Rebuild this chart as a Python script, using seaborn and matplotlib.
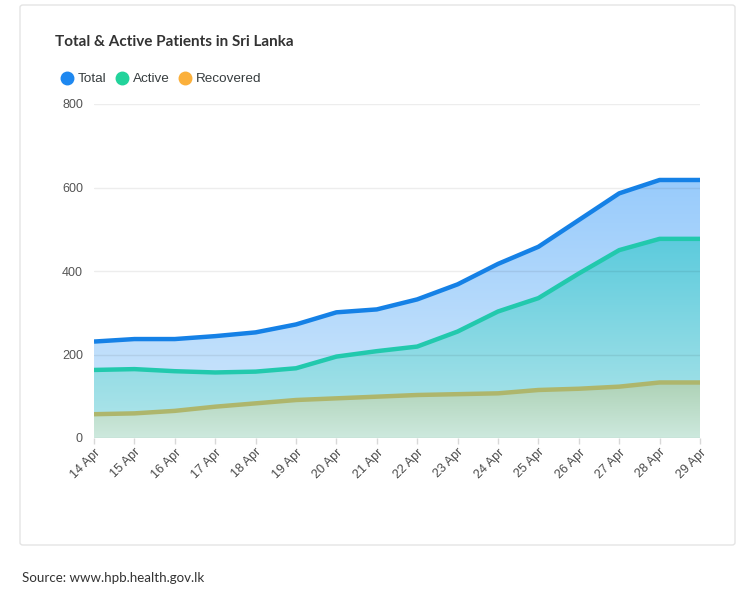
import numpy as np
import seaborn as sns
import matplotlib.pyplot as plt
from matplotlib.lines import Line2D
from matplotlib.patches import FancyBboxPatch
from matplotlib.colors import LinearSegmentedColormap

# ------------------------------------------------------------------
# data
dates = ['14 Apr', '15 Apr', '16 Apr', '17 Apr', '18 Apr', '19 Apr', '20 Apr', '21 Apr',
         '22 Apr', '23 Apr', '24 Apr', '25 Apr', '26 Apr', '27 Apr', '28 Apr', '29 Apr']
total = [231, 237, 237, 244, 253, 272, 301, 308, 332, 368, 417, 458, 522, 586, 618, 618]
active = [163, 165, 160, 157, 159, 167, 195, 208, 219, 255, 303, 335, 394, 450, 477, 477]
recovered = [57, 59, 65, 75, 83, 91, 95, 99, 103, 105, 107, 115, 118, 123, 133, 133]

series_names = ['Total', 'Active', 'Recovered']
legend_colors = ['#1e88f0', '#22d39b', '#fbb03b']
line_colors = ['#1581e6', '#22c9ad', '#aeb66c']
fill_top = ['#98cbfb', '#5ccbdd', '#aed2b6']
fill_bottom = ['#d3e9fc', '#b3e6ea', '#cde9de']

# ------------------------------------------------------------------
sns.set_theme(style='white')
plt.rcParams['font.family'] = ['Liberation Sans', 'DejaVu Sans']

W, H = 750, 591
fig = plt.figure(figsize=(W / 100, H / 100), dpi=100)

# card
card = FancyBboxPatch((20 / W, 1 - 545 / H), 715 / W, 540 / H,
                      boxstyle='round,pad=0,rounding_size=0.004',
                      transform=fig.transFigure, fc='white', ec='#e4e4e4', lw=1, zorder=0)
fig.add_artist(card)

ax = fig.add_axes([94 / W, 1 - 438 / H, 606 / W, 334 / H])
ax.patch.set_alpha(0)

x = np.arange(len(dates))


def gradient_area(ax, x, y, top, bottom, z):
    poly = ax.fill_between(x, 0, y, color='none', lw=0)
    grad = np.linspace(0, 1, 256).reshape(-1, 1)
    cmap = LinearSegmentedColormap.from_list('g', [bottom, top])
    im = ax.imshow(grad, cmap=cmap, aspect='auto', origin='lower',
                   extent=[x[0], x[-1], 0, max(y)], zorder=z, interpolation='bilinear')
    im.set_clip_path(poly.get_paths()[0], transform=ax.transData)


for i, ys in enumerate([total, active, recovered]):
    gradient_area(ax, x, ys, fill_top[i], fill_bottom[i], 1 + i * 0.1)

for i, ys in enumerate([total, active, recovered]):
    sns.lineplot(x=x, y=ys, color=line_colors[i], lw=3.2, ax=ax, zorder=4 - i * 0.1,
                 solid_joinstyle='round', solid_capstyle='butt')

ax.set_xlim(0, 15)
ax.set_ylim(0, 800)
ax.set_yticks([0, 200, 400, 600, 800])
ax.set_xticks(x)
ax.set_xticklabels(dates, rotation=45, ha='right', va='top', rotation_mode='anchor')
ax.yaxis.grid(True, color='black', alpha=0.07, lw=1)
ax.set_axisbelow(False)
for s in ax.spines.values():
    s.set_visible(False)
ax.tick_params(axis='y', length=0, pad=8, labelsize=9, labelcolor='#555555')
ax.tick_params(axis='x', bottom=True, length=4, width=1, color='#d8d8d8', pad=2,
               labelsize=9, labelcolor='#4a4a4a')
ax.set_xlabel('')
ax.set_ylabel('')

# title and legend
fig.text(55 / W, 1 - 42 / H, 'Total & Active Patients in Sri Lanka', family='Lato',
         fontweight='bold', fontsize=11, color='#333333', va='center')
leg_x = [67, 122, 185]
for i, name in enumerate(series_names):
    fig.add_artist(Line2D([leg_x[i] / W], [1 - 78 / H], marker='o', ms=9, lw=0,
                          color=legend_colors[i], transform=fig.transFigure))
    fig.text((leg_x[i] + 11) / W, 1 - 78.5 / H, name, fontsize=9.7, color='#373d3f', va='center')

fig.text(22 / W, 1 - 578 / H, 'Source: www.hpb.health.gov.lk', family='Lato',
         fontsize=9.6, color='#333333', va='center')

fig.savefig('out.png', dpi=100)
